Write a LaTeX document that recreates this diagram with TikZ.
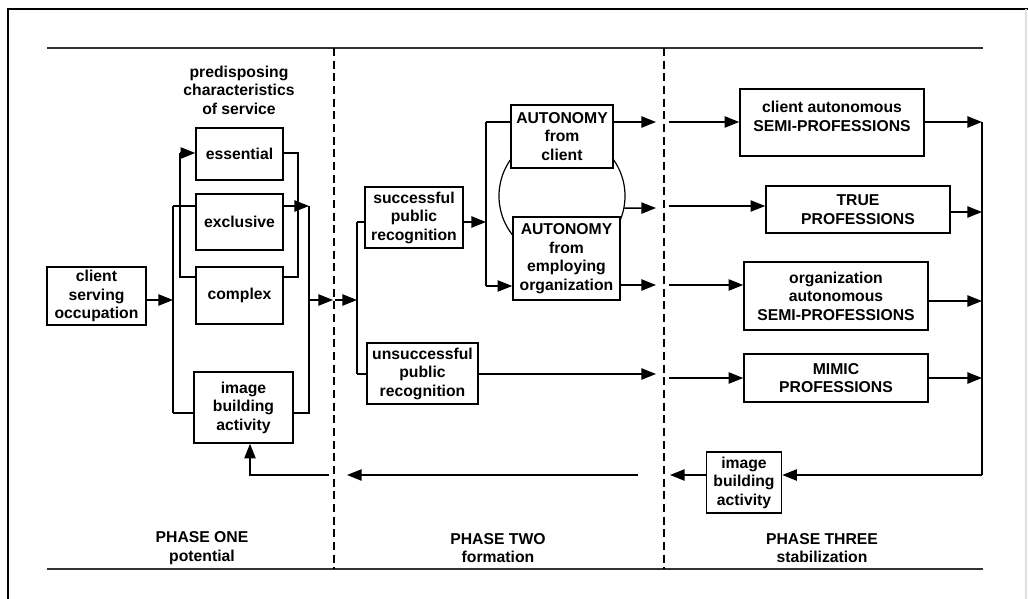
\documentclass[tikz,border=0pt]{standalone}
\usepackage{fontspec}
\setmainfont{Liberation Sans}
\usetikzlibrary{arrows.meta}
\newdimen\px \px=0.75pt
\tikzset{
  txt/.style={font=\bfseries\fontsize{11.8}{13.9}\selectfont, align=center, inner sep=1pt},
  box/.style={txt, draw, fill=white, line width=1.15pt},
  arr/.style={-{Triangle[length=11pt,width=8.5pt]}},
  dashln/.style={line width=2.2pt, dash pattern=on 6pt off 3.5pt}
}
\begin{document}
\begin{tikzpicture}[x=7.5pt,y=7.5pt,line width=1.1pt]
    \useasboundingbox (0,0) rectangle (102.8,-59.9);
    % frame and phase rules
    \draw[line width=1.5pt] (0.8,-59.9)--(0.8,-0.9)--(102.8,-0.9);
    \draw[black!12, line width=1pt] (102.6,-0.9)--(102.6,-59.9);
    \draw[line width=1.5pt, black!80] (4.7,-4.8)--(98.3,-4.8);
    \draw[line width=1.5pt, black!80] (4.7,-56.9)--(98.3,-56.9);
    \draw[dashln] (33.4,-4.8)--(33.4,-56.9);
    \draw[dashln] (66.4,-4.8)--(66.4,-56.9);

    % phase one
    \node[txt] (pred) at (23.9,-9.0) {predisposing\\characteristics\\of service};
    \node[box, minimum width=99\px, minimum height=58\px] (occ) at (9.65,-29.6) {client\\serving\\occupation};
    \node[box, minimum width=87\px, minimum height=52\px] (ess) at (23.95,-15.4) {essential};
    \node[box, minimum width=87\px, minimum height=56\px] (exc) at (23.95,-22.2) {exclusive};
    \node[box, minimum width=87\px, minimum height=57\px] (cpx) at (23.95,-29.55) {complex};
    \node[box, minimum width=99\px, minimum height=71\px] (img1) at (24.35,-40.75) {image\\building\\activity};

    \coordinate (a1) at (17.3,-20.6);
    \coordinate (a2) at (17.3,-41.3);
    \coordinate (a3) at (17.3,-30.0);
    \coordinate (b1) at (18.0,-15.3);
    \coordinate (b2) at (18.0,-27.7);
    \coordinate (c1) at (29.8,-15.3);
    \coordinate (c2) at (29.8,-27.7);
    \coordinate (d1) at (30.9,-20.6);
    \coordinate (d2) at (30.9,-41.3);
    \coordinate (d3) at (30.9,-30.0);
    \coordinate (x1) at (33.3,-30.0);
    \coordinate (x2) at (33.5,-30.0);

    \draw[arr] (occ.east |- a3)--(a3);
    \draw (a1)--(a2);
    \draw (a1)--(a1 -| exc.west);
    \draw (a2)--(a2 -| img1.west);
    \draw (b1)--(b2)--(b2 -| cpx.west);
    \draw[arr] (b1)--(b1 -| ess.west);
    \draw (ess.east |- c1)--(c1)--(c2)--(cpx.east |- c2);
    \draw[arr] (exc.east |- d1)--(d1);
    \draw (d1)--(d2)--(img1.east |- d2);
    \draw[arr] (d3)--(x1);

    % phase two
    \node[box, minimum width=98\px, minimum height=61\px] (succ) at (41.4,-21.75) {successful\\public\\recognition};
    \node[box, minimum width=111\px, minimum height=61\px] (unsucc) at (42.25,-37.35) {unsuccessful\\public\\recognition};
    \node[circle, draw, line width=0.9pt, minimum size=126\px] (link) at (56.2,-19.6) {};
    \node[box, minimum width=102\px, minimum height=63\px] (autc) at (56.2,-13.65) {AUTONOMY\\from\\client};
    \node[box, minimum width=107\px, minimum height=83\px] (aute) at (56.65,-25.85) {AUTONOMY\\from\\employing\\organization};

    \coordinate (e0) at (35.7,-30.0);
    \coordinate (e1) at (35.7,-22.2);
    \coordinate (e2) at (35.7,-37.4);
    \coordinate (f0) at (48.6,-22.2);
    \coordinate (f1) at (48.6,-12.2);
    \coordinate (f2) at (48.6,-28.6);
    \coordinate (g1) at (65.6,-12.2);
    \coordinate (g2) at (65.6,-20.8);
    \coordinate (g3) at (65.6,-28.5);
    \coordinate (g4) at (65.6,-37.4);

    \draw[arr] (x2)--(e0);
    \draw (e1)--(e2);
    \draw (e1)--(succ.west |- e1);
    \draw (e2)--(unsucc.west |- e2);
    \draw[arr] (succ.east |- f0)--(f0);
    \draw (f1)--(f2);
    \draw (f1)--(f1 -| autc.west);
    \draw[arr] (f2)--(f2 -| aute.west);
    \draw[arr] (autc.east |- g1)--(g1);
    \draw[arr] (link.-11)--(g2);
    \draw[arr] (aute.east |- g3)--(g3);
    \draw[arr] (unsucc.east |- g4)--(g4);

    % phase three
    \node[box, minimum width=184\px, minimum height=67\px, text depth=9pt] (csemi) at (83.2,-12.25) {client autonomous\\SEMI-PROFESSIONS};
    \node[box, minimum width=184\px, minimum height=47\px] (truep) at (85.8,-20.95) {TRUE\\PROFESSIONS};
    \node[box, minimum width=184\px, minimum height=68\px] (osemi) at (83.6,-29.6) {organization\\autonomous\\SEMI-PROFESSIONS};
    \node[box, minimum width=184\px, minimum height=48\px] (mimic) at (83.6,-37.8) {MIMIC\\PROFESSIONS};
    \node[box, minimum width=75\px, minimum height=61\px] (img3) at (74.4,-48.25) {image\\building\\activity};

    \coordinate (h1) at (66.9,-12.2);
    \coordinate (h2) at (66.9,-20.6);
    \coordinate (h3) at (66.9,-28.5);
    \coordinate (h4) at (66.9,-37.8);
    \coordinate (k1) at (98.2,-12.2);
    \coordinate (k2) at (98.2,-21.2);
    \coordinate (k3) at (98.2,-30.1);
    \coordinate (k4) at (98.2,-37.8);
    \coordinate (k5) at (98.2,-47.5);

    \draw[arr] (h1)--(h1 -| csemi.west);
    \draw[arr] (h2)--(h2 -| truep.west);
    \draw[arr] (h3)--(h3 -| osemi.west);
    \draw[arr] (h4)--(h4 -| mimic.west);
    \draw[arr] (csemi.east |- k1)--(k1);
    \draw[arr] (truep.east |- k2)--(k2);
    \draw[arr] (osemi.east |- k3)--(k3);
    \draw[arr] (mimic.east |- k4)--(k4);
    \draw (k1)--(k5);

    % feedback
    \coordinate (m1) at (67.0,-47.5);
    \coordinate (n1) at (63.8,-47.5);
    \coordinate (n2) at (34.7,-47.5);
    \coordinate (p0) at (32.9,-47.5);
    \coordinate (p1) at (25.0,-47.5);
    \draw[arr] (k5)--(img3.east |- k5);
    \draw[arr] (img3.west |- k5)--(m1);
    \draw[arr] (n1)--(n2);
    \draw[arr] (p0)--(p1)--(p1 |- img1.south);

    % phase labels
    \node[txt] (ph1) at (20.2,-54.8) {PHASE ONE\\potential};
    \node[txt] (ph2) at (49.8,-54.8) {PHASE TWO\\formation};
    \node[txt] (ph3) at (82.2,-54.8) {PHASE THREE\\stabilization};
\end{tikzpicture}
\end{document}
